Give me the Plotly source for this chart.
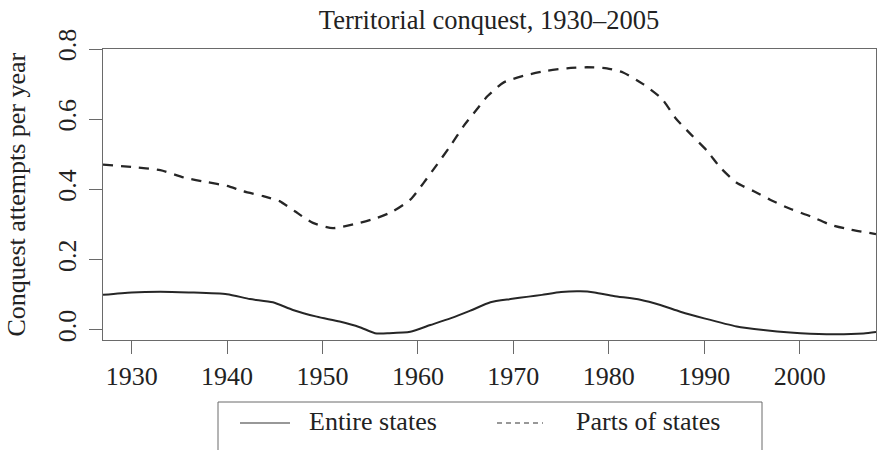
import plotly.graph_objects as go

# ---- data ----
entire_years = [1927, 1930, 1933, 1936, 1940, 1942.4, 1944.8, 1946.9, 1949.4, 1951.8,
                1953.9, 1955.5, 1957, 1959.2, 1961.3, 1963.4, 1965.5, 1967.6, 1969.7,
                1971.6, 1973, 1975, 1977, 1978.5, 1980.5, 1983.3, 1985.4, 1987.5,
                1990, 1993.4, 1996.2, 1999, 2002.8, 2006.7, 2008]
entire_vals = [0.100, 0.107, 0.109, 0.107, 0.102, 0.088, 0.079, 0.057, 0.038, 0.024,
               0.008, -0.009, -0.009, -0.005, 0.014, 0.033, 0.055, 0.079, 0.088,
               0.095, 0.100, 0.108, 0.110, 0.107, 0.097, 0.086, 0.071, 0.052,
               0.033, 0.010, 0.000, -0.007, -0.012, -0.010, -0.006]

parts_years = [1927, 1930, 1933, 1935.6, 1937.9, 1940, 1941.7, 1943.8, 1945.5, 1947.1,
               1949.0, 1951.1, 1953.6, 1955.7, 1957.4, 1959.2, 1960.6, 1962.0, 1963.4,
               1964.8, 1966.2, 1967.3, 1969.0, 1971.4, 1973.5, 1975.6, 1977.7, 1979.8,
               1981.5, 1983.6, 1985.6, 1987.0, 1988.6, 1990.3, 1991.7, 1993.4, 1995.2,
               1996.9, 1999.0, 2001.1, 2003.2, 2005.3, 2008]
parts_vals = [0.471, 0.464, 0.455, 0.433, 0.421, 0.410, 0.395, 0.381, 0.367, 0.338,
              0.305, 0.290, 0.303, 0.319, 0.338, 0.371, 0.419, 0.471, 0.524,
              0.581, 0.629, 0.666, 0.705, 0.726, 0.738, 0.745, 0.748, 0.745,
              0.733, 0.700, 0.657, 0.603, 0.557, 0.510, 0.462, 0.419, 0.395,
              0.371, 0.345, 0.324, 0.300, 0.286, 0.273]

x_ticks = [1930, 1940, 1950, 1960, 1970, 1980, 1990, 2000]
y_ticks = [0.0, 0.2, 0.4, 0.6, 0.8]
y_tick_labels = ["0.0", "0.2", "0.4", "0.6", "0.8"]
series_names = ["Entire states", "Parts of states"]
title_text = "Territorial conquest, 1930\u20132005"
y_title = "Conquest attempts per year"

FONT = "Liberation Serif"
TXT = "#222222"
AX = "#6a6a6a"
W, H = 877, 450
L, R, T, B = 103, 1, 49, 110
pw, ph = W - L - R, H - T - B


def px_x(x):
    return (x - L) / pw


def px_y(y):
    return (H - B - y) / ph


fig = go.Figure()
fig.add_trace(go.Scatter(x=entire_years, y=entire_vals, mode="lines", name=series_names[0],
                         line=dict(color="#262626", width=2, shape="spline", smoothing=0.6),
                         showlegend=False))
fig.add_trace(go.Scatter(x=parts_years, y=parts_vals, mode="lines", name=series_names[1],
                         line=dict(color="#262626", width=2.3, dash="10px,8px",
                                   shape="spline", smoothing=0.6),
                         showlegend=False))

axis_common = dict(showline=True, linecolor=AX, linewidth=1, mirror=True,
                   ticks="outside", ticklen=13, tickwidth=1, tickcolor=AX,
                   showgrid=False, zeroline=False,
                   tickfont=dict(family=FONT, size=26, color=TXT))

fig.update_xaxes(range=[1927, 2008], tickvals=x_ticks, **axis_common)
fig.update_yaxes(range=[-0.0285, 0.8], tickvals=y_ticks, ticktext=y_tick_labels,
                 tickangle=-90, ticklabelstandoff=3, **axis_common)

# legend (drawn as a framed box below the plot)
shapes = [
    dict(type="rect", xref="paper", yref="paper",
         x0=px_x(218), x1=px_x(762), y0=px_y(402), y1=px_y(480),
         line=dict(color=AX, width=1), fillcolor="rgba(0,0,0,0)"),
    dict(type="line", xref="paper", yref="paper",
         x0=px_x(240), x1=px_x(290), y0=px_y(423), y1=px_y(423),
         line=dict(color="#333333", width=1.2)),
    dict(type="line", xref="paper", yref="paper",
         x0=px_x(497), x1=px_x(543), y0=px_y(423), y1=px_y(423),
         line=dict(color="#333333", width=1.2, dash="5px,4px")),
]
annotations = [
    dict(text=series_names[0], xref="paper", yref="paper", x=px_x(307), y=px_y(422),
         xanchor="left", yanchor="middle", showarrow=False,
         font=dict(family=FONT, size=26, color=TXT)),
    dict(text=series_names[1], xref="paper", yref="paper", x=px_x(574), y=px_y(422),
         xanchor="left", yanchor="middle", showarrow=False,
         font=dict(family=FONT, size=26, color=TXT)),
    dict(text=y_title, xref="paper", yref="paper", x=px_x(16), y=0.5,
         xanchor="center", yanchor="middle", textangle=-90, showarrow=False,
         font=dict(family=FONT, size=26, color=TXT)),
]

fig.update_layout(
    width=W, height=H,
    margin=dict(l=L, r=R, t=T, b=B, autoexpand=False),
    paper_bgcolor="white", plot_bgcolor="white",
    title=dict(text=title_text, x=px_x(489), xref="paper", xanchor="center",
               y=1 - 20 / H, yref="container", yanchor="middle",
               font=dict(family=FONT, size=26.5, color=TXT)),
    shapes=shapes, annotations=annotations,
    showlegend=False,
)

fig.write_html("out.html", config={"displayModeBar": False},
               post_script="document.body.style.margin='0';")
